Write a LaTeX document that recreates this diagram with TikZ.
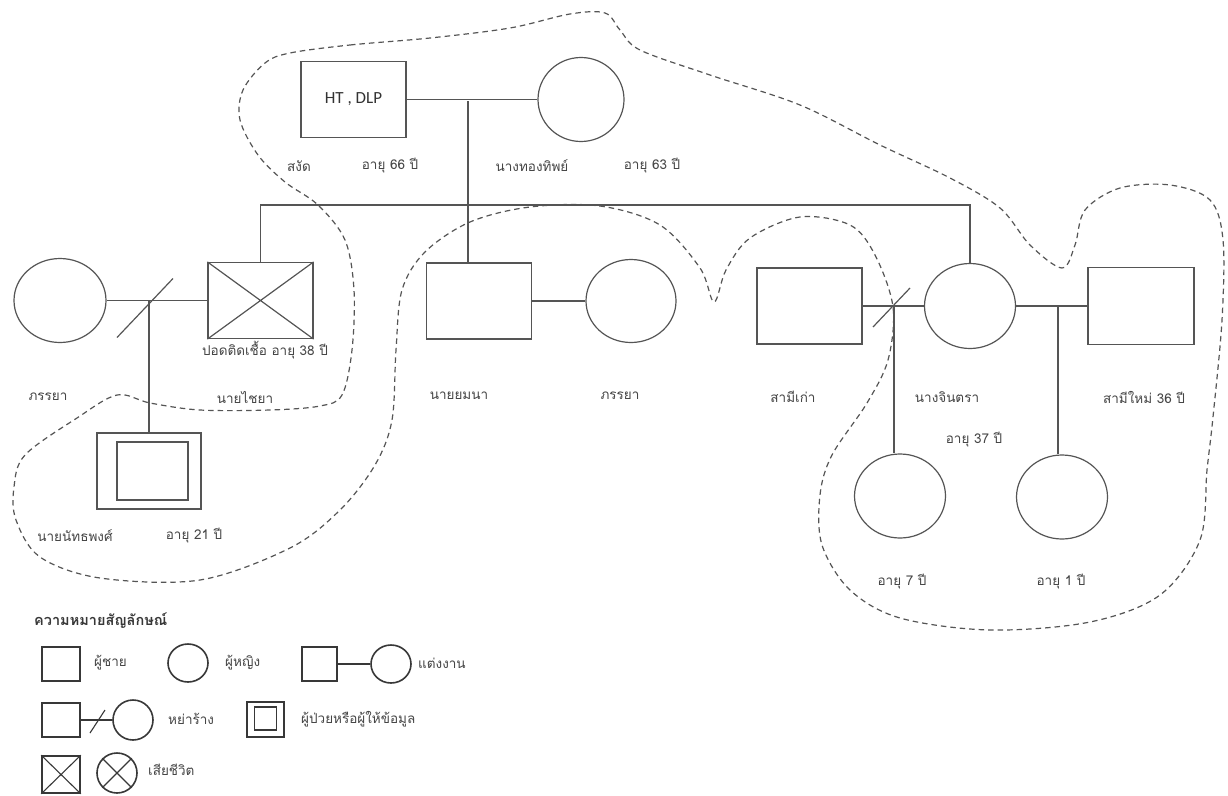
\documentclass[tikz,border=0pt]{standalone}
\usepackage{fontspec}
\setmainfont{Loma}[Script=Thai]
\newfontfamily\latinfont{Carlito}
\usetikzlibrary{shapes.geometric,positioning,calc}
\definecolor{ink}{HTML}{555555}
\definecolor{keyink}{HTML}{383838}
\definecolor{txt}{HTML}{454545}
\tikzset{
  male/.style={rectangle,draw=ink,line width=1.2pt,minimum width=105pt,minimum height=76pt,inner sep=0pt},
  female/.style={ellipse,draw=ink,line width=1.2pt,minimum width=90pt,minimum height=84pt,inner sep=0pt},
  tag/.style={text=txt,font=\fontsize{13.5}{15}\selectfont,inner sep=1pt},
  rel/.style={draw=ink,line width=1.2pt},
  household/.style={draw=ink,line width=1.2pt,dash pattern=on 5.5pt off 4pt},
  kmale/.style={rectangle,draw=keyink,line width=1.6pt,minimum width=38pt,minimum height=34pt,inner sep=0pt},
  kfemale/.style={ellipse,draw=keyink,line width=1.6pt,minimum width=40pt,minimum height=38pt,inner sep=0pt},
  krel/.style={draw=keyink,line width=1.1pt},
  ktag/.style={tag,anchor=west},
}

\begin{document}
\begin{tikzpicture}[x=1pt,y=-1pt]
  \path[fill=white,use as bounding box] (0,0) rectangle (1228,795);

  % grandparents
  \node[male] (sangat) at (353.5,99.5) {\latinfont\fontsize{17}{19}\selectfont\color{black!80}HT , DLP};
  \node[female,minimum width=86pt] (thongthip) at (581,99.5) {};
  \draw[rel] (sangat) -- (thongthip);
  \coordinate (m1) at (468,101);
  \coordinate (sib) at (468,205);

  % second generation
  \node[female,minimum width=92pt] (chaiyawife) at (60,300.5) {};
  \node[male] (chaiya) at (260.5,300.5) {};
  \draw[rel] (chaiya.north west) -- (chaiya.south east) (chaiya.south west) -- (chaiya.north east);
  \node[male] (yomna) at (479,301) {};
  \node[female,minimum height=83pt] (yomnawife) at (631,301) {};
  \node[male] (exhus) at (809.5,306) {};
  \node[female,minimum width=91pt,minimum height=85pt] (jintra) at (970,306) {};
  \node[male,minimum width=106pt,minimum height=77pt] (newhus) at (1141,306) {};

  % third generation
  \node[male,minimum width=104pt] (natthaphong) at (149,471) {};
  \node[rectangle,draw=ink,line width=1.2pt,minimum width=71pt,minimum height=58pt] (natinner) at (152.5,471) {};
  \node[female,minimum width=91pt] (kid1) at (900,496) {};
  \node[female,minimum width=91pt] (kid2) at (1062,497) {};

  \draw[rel] (m1) -- (m1 |- yomna.north);
  \draw[rel] (chaiya.north) |- (sib) -| (jintra.north);
  \draw[rel] (chaiyawife) -- (chaiya);
  \coordinate (d1) at (149,300.5);
  \draw[rel] ($(d1)+(-32,37)$) -- ($(d1)+(24,-22)$);
  \draw[rel] (d1) -- (natthaphong.north);
  \draw[rel] (yomna) -- (yomnawife);
  \draw[rel] (exhus) -- (jintra);
  \coordinate (d2) at (894,306);
  \draw[rel] ($(d2)+(-21,21)$) -- ($(d2)+(16,-18)$);
  \draw[rel] (d2) -- (d2 |- kid1.north);
  \draw[rel] (jintra) -- (newhus);
  \coordinate (m3) at (1058,306);
  \draw[rel] (m3) -- (m3 |- kid2.north);

  % names and ages
  \node[tag] (sangatname) at (299,166) {สงัด};
  \node[tag] (sangatage) at (390,166) {อายุ 66 ปี};
  \node[tag] (thongthipname) at (532,166) {นางทองทิพย์};
  \node[tag] (thongthipage) at (652,166) {อายุ 63 ปี};
  \node[tag] (chaiyacause) at (265,350) {ปอดติดเชื้อ อายุ 38 ปี};
  \node[tag] (chaiyawifename) at (48,397) {ภรรยา};
  \node[tag] (chaiyaname) at (245,397) {นายไชยา};
  \node[tag] (yomnaname) at (459,396) {นายยมนา};
  \node[tag] (yomnawifename) at (620,396) {ภรรยา};
  \node[tag] (exhusname) at (793,397) {สามีเก่า};
  \node[tag] (jintraname) at (947,397) {นางจินตรา};
  \node[tag] (newhusname) at (1144,397) {สามีใหม่ 36 ปี};
  \node[tag] (jintraage) at (974,440) {อายุ 37 ปี};
  \node[tag] (natname) at (75,536) {นายนัทธพงศ์};
  \node[tag] (natage) at (194,536) {อายุ 21 ปี};
  \node[tag] (kid1age) at (902,582) {อายุ 7 ปี};
  \node[tag] (kid2age) at (1061,582) {อายุ 1 ปี};

  % household boundary
  \draw[household] plot[smooth cycle,tension=0.55] coordinates {
    (290,53) (350,45) (430,38) (510,28) (570,14) (605,13) (620,30) (640,50)
    (710,75) (800,105) (880,145) (950,178) (1000,208) (1030,245) (1062,268)
    (1075,245) (1085,210) (1120,188) (1170,185) (1210,200) (1223,240)
    (1222,320) (1213,417) (1207,470) (1200,540) (1160,595) (1090,622)
    (990,630) (900,618) (850,590) (822,545) (820,495) (832,455) (867,403)
    (888,360) (893,307) (875,255) (850,225) (800,217) (750,238) (726,270)
    (714,302) (700,268) (660,225) (600,206) (530,207) (470,222) (425,252)
    (402,290) (396,350) (392,420) (375,465) (340,510) (290,548) (200,580)
    (100,578) (40,557) (16,520) (14,487) (25,455) (77,418) (117,395)
    (150,403) (200,410) (270,410) (320,406) (342,395) (352,350) (354,290)
    (345,240) (318,205) (285,182) (258,155) (240,120) (243,90) (265,63)};

  % key
  \node[tag,font=\bfseries\fontsize{14.5}{16}\selectfont,text=keyink,anchor=west] (keytitle) at (33,621) {ความหมายสัญลักษณ์};
  \node[kmale] (keyman) at (61,664) {};
  \node[ktag] (keymantext) at (93,663) {ผู้ชาย};
  \node[kfemale] (keywoman) at (188,663) {};
  \node[ktag] (keywomantext) at (224,663) {ผู้หญิง};
  \node[kmale,minimum width=35pt] (keyhus) at (319.5,664) {};
  \node[kfemale] (keywife) at (391,664) {};
  \draw[krel] (keyhus) -- (keywife);
  \node[ktag] (keymarrytext) at (417,663) {แต่งงาน};
  \node[kmale] (keydivhus) at (61,720) {};
  \node[kfemale,minimum height=40pt] (keydivwife) at (133,720) {};
  \draw[krel] (keydivhus) -- (keydivwife);
  \draw[krel] (90,733) -- (105,710);
  \node[ktag] (keydivtext) at (167,719) {หย่าร้าง};
  \node[kmale,minimum width=37pt,minimum height=35pt] (keypatient) at (265.5,719.5) {};
  \node[kmale,minimum width=22pt,minimum height=23pt] (keypatientin) at (265.5,718.5) {};
  \node[ktag] (keypatienttext) at (300,719) {ผู้ป่วยหรือผู้ให้ข้อมูล};
  \node[kmale,minimum height=37pt] (keydeadman) at (61,774.5) {};
  \draw[krel] (keydeadman.north west) -- (keydeadman.south east) (keydeadman.south west) -- (keydeadman.north east);
  \node[kfemale,minimum height=40pt] (keydeadwoman) at (117,773) {};
  \draw[krel] (keydeadwoman.45) -- (keydeadwoman.225) (keydeadwoman.135) -- (keydeadwoman.315);
  \node[ktag] (keydeadtext) at (147,770) {เสียชีวิต};
\end{tikzpicture}
\end{document}
